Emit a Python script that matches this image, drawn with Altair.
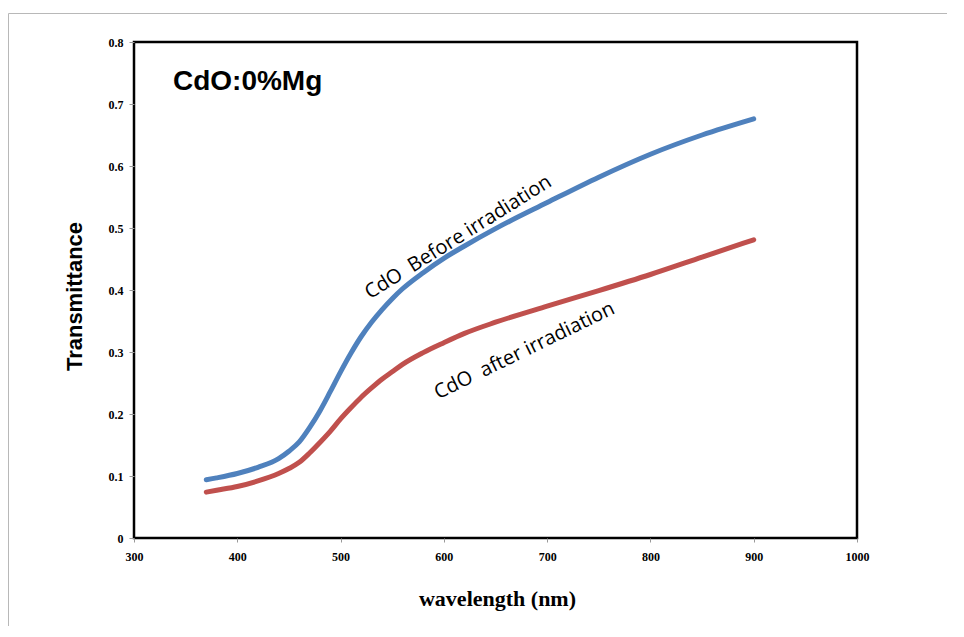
import altair as alt
import pandas as pd

wavelength = [370, 380, 400, 420, 440, 450, 460, 470, 480, 490, 500, 510, 520, 530,
              540, 550, 560, 580, 600, 620, 650, 700, 750, 800, 850, 900]
before = [0.094, 0.097, 0.104, 0.114, 0.128, 0.140, 0.155, 0.178, 0.205, 0.236, 0.268,
          0.298, 0.325, 0.348, 0.368, 0.386, 0.402, 0.428, 0.451, 0.471, 0.499, 0.541,
          0.582, 0.619, 0.650, 0.676]
after = [0.074, 0.077, 0.083, 0.092, 0.104, 0.112, 0.122, 0.137, 0.154, 0.172, 0.192,
         0.210, 0.227, 0.242, 0.256, 0.268, 0.280, 0.299, 0.315, 0.330, 0.348, 0.374,
         0.399, 0.425, 0.453, 0.481]
series_names = ["CdO\u00a0\u00a0Before irradiation", "CdO\u00a0\u00a0after irradiation"]
series_colors = ["#4F81BD", "#C0504D"]

x_ticks = [300, 400, 500, 600, 700, 800, 900, 1000]
y_ticks = [0, 0.1, 0.2, 0.3, 0.4, 0.5, 0.6, 0.7, 0.8]

rows = []
for w, b in zip(wavelength, before):
    rows.append({"wl": w, "T": b, "s": series_names[0]})
for w, a in zip(wavelength, after):
    rows.append({"wl": w, "T": a, "s": series_names[1]})
df = pd.DataFrame(rows)

# label anchor points (data coordinates)
labels = pd.DataFrame({
    "wl": [614, 678],
    "T": [0.485, 0.302],
    "text": series_names,
})
title_df = pd.DataFrame({"wl": [410], "T": [0.735], "text": ["CdO:0%Mg"]})

W, H = 723, 496

xs = alt.Scale(domain=[300, 1000], nice=False, zero=False)
ys = alt.Scale(domain=[0, 0.8], nice=False)

xaxis = alt.Axis(values=x_ticks, title="wavelength (nm)", grid=False, domain=False,
                 labelFont="Liberation Serif", labelFontWeight="bold", labelFontSize=12,
                 labelColor="black", tickColor="#999999", tickSize=4, labelPadding=9,
                 titleFont="Liberation Serif", titleFontWeight="bold", titleFontSize=22,
                 titleColor="black", titleX=363, titleY=60, titleBaseline="middle",
                 format="d", labelFlush=False)
yaxis = alt.Axis(values=y_ticks, title="Transmittance", grid=False, domain=False,
                 labelFont="Liberation Serif", labelFontWeight="bold", labelFontSize=12,
                 labelColor="black", tickColor="#999999", tickSize=5, labelPadding=6,
                 titleFont="Liberation Sans", titleFontWeight="bold", titleFontSize=22,
                 titleColor="black", titleX=-60, titleY=254, titleBaseline="middle",
                 format="~g", labelFlush=False)

frame = alt.Chart(pd.DataFrame({"a": [0]})).mark_rect(
    fill=None, stroke="#b8b8b8", strokeWidth=1
).encode(x=alt.value(-125.5), x2=alt.value(860), y=alt.value(-28.5), y2=alt.value(640))

lines = alt.Chart(df).mark_line(strokeWidth=5, interpolate="monotone", strokeCap="round").encode(
    x=alt.X("wl:Q", scale=xs, axis=xaxis),
    y=alt.Y("T:Q", scale=ys, axis=yaxis),
    color=alt.Color("s:N", scale=alt.Scale(domain=series_names, range=series_colors), legend=None),
)

lab1 = alt.Chart(labels.iloc[[0]]).mark_text(
    font="Open Sans", fontSize=20, color="black", angle=328
).encode(x=alt.X("wl:Q", scale=xs), y=alt.Y("T:Q", scale=ys), text="text:N")
lab2 = alt.Chart(labels.iloc[[1]]).mark_text(
    font="Open Sans", fontSize=20, color="black", angle=334
).encode(x=alt.X("wl:Q", scale=xs), y=alt.Y("T:Q", scale=ys), text="text:N")

ttl = alt.Chart(title_df).mark_text(
    font="Liberation Sans", fontSize=28, fontWeight="bold", color="black"
).encode(x=alt.X("wl:Q", scale=xs), y=alt.Y("T:Q", scale=ys), text="text:N")

chart = alt.layer(frame, lines, lab1, lab2, ttl).properties(
    width=W, height=H,
    background="white",
    autosize=alt.AutoSizeParams(type="none"),
    padding={"left": 126, "top": 34, "right": 90, "bottom": 88},
).configure_view(stroke="black", strokeWidth=2.5)

chart.save("out.html", embed_options={"renderer": "svg", "actions": False})
